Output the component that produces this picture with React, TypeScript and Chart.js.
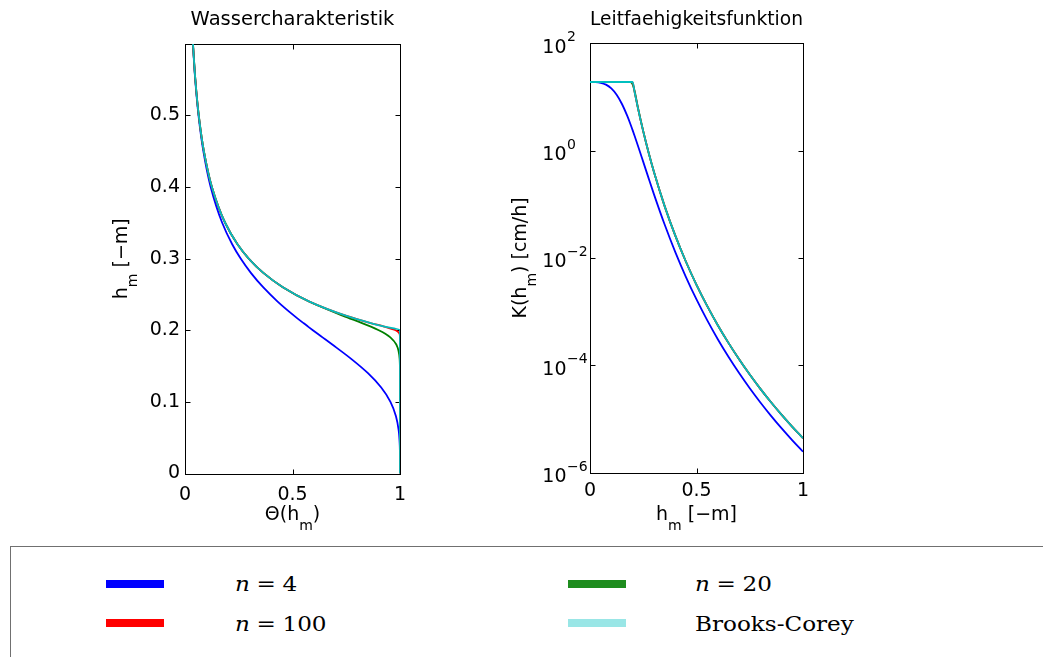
import React, { useEffect, useRef } from 'react';
import { Chart, registerables } from 'chart.js';

Chart.register(...registerables);

// ---------------- data ----------------
// left panel: pressure head h_m (y) vs. effective saturation Θ (x)
const hSat = [0.6, 0.55, 0.5, 0.45, 0.4, 0.35, 0.32, 0.3, 0.28, 0.26, 0.24, 0.22, 0.21, 0.205, 0.2, 0.195, 0.19, 0.18, 0.16, 0.14, 0.12, 0.1, 0.08, 0.06, 0.04, 0.02, 0];
const thetaN4 = [0.0367, 0.0475, 0.0628, 0.0853, 0.1194, 0.1729, 0.2195, 0.2589, 0.3064, 0.3634, 0.4308, 0.5085, 0.5507, 0.5725, 0.5946, 0.617, 0.6397, 0.685, 0.773, 0.851, 0.9127, 0.9556, 0.9812, 0.994, 0.9988, 0.9999, 1];
const thetaN20 = [0.037, 0.0481, 0.064, 0.0878, 0.125, 0.1866, 0.2441, 0.2963, 0.3644, 0.4548, 0.5765, 0.7358, 0.8234, 0.8646, 0.9013, 0.9317, 0.9551, 0.9829, 0.9983, 0.9999, 1, 1, 1, 1, 1, 1, 1];
const thetaN100 = [0.037, 0.0481, 0.064, 0.0878, 0.125, 0.1866, 0.2441, 0.2963, 0.3644, 0.4552, 0.5787, 0.7513, 0.8636, 0.9263, 0.9794, 0.9977, 0.9998, 1, 1, 1, 1, 1, 1, 1, 1, 1, 1];
const thetaBC = [0.037, 0.0481, 0.064, 0.0878, 0.125, 0.1866, 0.2441, 0.2963, 0.3644, 0.4552, 0.5787, 0.7513, 0.8638, 0.9286, 1, 1, 1, 1, 1, 1, 1, 1, 1, 1, 1, 1, 1];

// right panel: conductivity K (cm/h) vs. h_m
const hK = [0, 0.025, 0.05, 0.075, 0.1, 0.125, 0.15, 0.175, 0.19, 0.2, 0.21, 0.225, 0.25, 0.275, 0.3, 0.35, 0.4, 0.45, 0.5, 0.55, 0.6, 0.65, 0.7, 0.75, 0.8, 0.85, 0.9, 0.95, 1];
const kN4 = [19, 18.92, 18.39, 16.95, 14.4, 10.98, 7.392, 4.422, 3.1, 2.408, 1.853, 1.235, 0.616, 0.3065, 0.1546, 0.04231, 0.01298, 0.004444, 0.001679, 0.0006907, 0.0003054, 0.0001438, 0.00007149, 0.00003724, 0.00002022, 0.00001139, 0.000006624, 0.000003969, 0.000002438];
const kN20 = [19, 19, 19, 19, 19, 19, 19, 19, 18.9, 17.2, 12.6, 6.35, 2.29, 0.924, 0.4036, 0.09331, 0.02624, 0.008572, 0.00315, 0.001274, 0.0005572, 0.0002605, 0.0001289, 0.00006688, 0.00003624, 0.00002037, 0.00001183, 0.000007085, 0.000004351];
const kN100 = [19, 19, 19, 19, 19, 19, 19, 19, 19, 18.6, 12.0, 6.206, 2.281, 0.9223, 0.4036, 0.09331, 0.02624, 0.008572, 0.00315, 0.001274, 0.0005572, 0.0002605, 0.0001289, 0.00006688, 0.00003624, 0.00002037, 0.00001183, 0.000007085, 0.000004351];
const kBC = [19, 19, 19, 19, 19, 19, 19, 19, 19, 19, 11.96, 6.206, 2.281, 0.9223, 0.4036, 0.09331, 0.02624, 0.008572, 0.00315, 0.001274, 0.0005572, 0.0002605, 0.0001289, 0.00006688, 0.00003624, 0.00002037, 0.00001183, 0.000007085, 0.000004351];

// ticks
const xTicks = [0, 0.5, 1];
const yTicksSat = [0, 0.1, 0.2, 0.3, 0.4, 0.5];
const yTicksK = [1e-6, 1e-4, 1e-2, 1, 1e2];

// series
const seriesLabels = ['n = 4', 'n = 20', 'n = 100', 'Brooks-Corey'];
const lineColors = ['#0000ff', '#008000', '#ff0000', '#00bfbf'];
const legendColors = ['#0000ff', '#1e8c1e', '#ff0000', '#99e6e6'];
const drawOrder = [4, 3, 2, 1];

const SANS = '"DejaVu Sans", "Liberation Sans", sans-serif';
const SERIF = '"DejaVu Serif", "Liberation Serif", serif';

type Part = [string, boolean];

function drawParts(ctx: CanvasRenderingContext2D, parts: Part[], cx: number, cy: number, rotate: boolean) {
  const main = 19, sub = 14, drop = 10;
  ctx.save();
  ctx.translate(cx, cy);
  if (rotate) ctx.rotate(-Math.PI / 2);
  ctx.textAlign = 'left';
  ctx.textBaseline = 'alphabetic';
  ctx.fillStyle = '#000';
  let total = 0;
  const widths = parts.map(([t, s]) => {
    ctx.font = `${s ? sub : main}px ${SANS}`;
    const w = ctx.measureText(t).width;
    total += w;
    return w;
  });
  let x = -total / 2;
  parts.forEach(([t, s], i) => {
    ctx.font = `${s ? sub : main}px ${SANS}`;
    ctx.fillText(t, x, s ? drop : 0);
    x += widths[i];
  });
  ctx.restore();
}

function framePlugin(o: {
  yTicks: number[];
  xTitle: Part[];
  xBase: number;
  yTitle: Part[];
  yBase: number;
  logLabels?: number;
}) {
  const TL = 5;
  return {
    id: 'frame',
    beforeDatasetsDraw(chart: any) {
      const { ctx, chartArea: a, scales } = chart;
      ctx.save();
      ctx.strokeStyle = '#000';
      ctx.lineWidth = 1;
      const l = Math.round(a.left) + 0.5, r = Math.round(a.right) + 0.5;
      const t = Math.round(a.top) + 0.5, b = Math.round(a.bottom) + 0.5;
      ctx.strokeRect(l, t, r - l, b - t);
      ctx.beginPath();
      for (const v of xTicks) {
        const px = Math.round(scales.x.getPixelForValue(v)) + 0.5;
        ctx.moveTo(px, b); ctx.lineTo(px, b - TL);
        ctx.moveTo(px, t); ctx.lineTo(px, t + TL);
      }
      for (const v of o.yTicks) {
        const py = Math.round(scales.y.getPixelForValue(v)) + 0.5;
        ctx.moveTo(l, py); ctx.lineTo(l + TL, py);
        ctx.moveTo(r, py); ctx.lineTo(r - TL, py);
      }
      ctx.stroke();
      ctx.restore();
    },
    afterDraw(chart: any) {
      const { ctx, chartArea: a, scales } = chart;
      const cx = (a.left + a.right) / 2;
      const cy = (a.top + a.bottom) / 2;
      drawParts(ctx, o.xTitle, cx, o.xBase, false);
      drawParts(ctx, o.yTitle, o.yBase, cy, true);
      if (o.logLabels !== undefined) {
        ctx.save();
        ctx.fillStyle = '#000';
        ctx.textBaseline = 'alphabetic';
        for (const v of o.yTicks) {
          const py = scales.y.getPixelForValue(v);
          const e = Math.round(Math.log10(v));
          ctx.font = `19px ${SANS}`;
          ctx.textAlign = 'right';
          ctx.fillText('10', o.logLabels, py + 9.5);
          ctx.font = `14px ${SANS}`;
          ctx.textAlign = 'left';
          ctx.fillText(e < 0 ? '\u2212' + Math.abs(e) : String(e), o.logLabels + 0.5, py - 2);
        }
        ctx.restore();
      }
    },
  };
}

const fmt = (v: any) => String(Math.round(Number(v) * 10) / 10);

function makeDatasets(series: number[][], shared: number[], sharedIsY: boolean) {
  return series.map((vals, i) => ({
    label: seriesLabels[i],
    data: shared.map((s, j) => (sharedIsY ? { x: vals[j], y: s } : { x: s, y: vals[j] })),
    indexAxis: sharedIsY ? 'y' : 'x',
    borderColor: lineColors[i],
    backgroundColor: lineColors[i],
    borderWidth: 1.8,
    pointRadius: 0,
    fill: false,
    cubicInterpolationMode: 'monotone' as const,
    borderJoinStyle: 'round' as const,
    order: drawOrder[i],
  }));
}

export default function App() {
  const leftRef = useRef<HTMLCanvasElement>(null);
  const rightRef = useRef<HTMLCanvasElement>(null);

  useEffect(() => {
    const tickFont = { family: SANS, size: 19 };
    const titleFont = { family: SANS, size: 19.5, weight: 'normal' };
    const left = new Chart(leftRef.current!, {
      type: 'line',
      data: { datasets: makeDatasets([thetaN4, thetaN20, thetaN100, thetaBC], hSat, true) as any },
      options: {
        responsive: false,
        animation: false,
        layout: { padding: { left: 0, right: 90, top: 0, bottom: 0 } },
        plugins: {
          legend: { display: false },
          tooltip: { enabled: false },
          title: {
            display: true,
            fullSize: false,
            text: 'Wassercharakteristik',
            color: '#000',
            font: titleFont,
            padding: { top: 8.7, bottom: 11.9 },
          },
        },
        scales: {
          x: {
            type: 'linear', position: 'bottom', min: 0, max: 1,
            afterBuildTicks: (s: any) => { s.ticks = xTicks.map((v) => ({ value: v })); },
            afterFit: (s: any) => { s.height = 71.5; },
            grid: { display: false, drawTicks: false },
            border: { display: false },
            ticks: { color: '#000', font: tickFont, padding: 10, maxRotation: 0, autoSkip: false, callback: fmt },
          },
          y: {
            type: 'linear', position: 'left', min: 0, max: 0.5995,
            afterBuildTicks: (s: any) => { s.ticks = yTicksSat.map((v) => ({ value: v })); },
            afterFit: (s: any) => { s.width = 185; },
            grid: { display: false, drawTicks: false },
            border: { display: false },
            ticks: { color: '#000', font: tickFont, padding: 5, autoSkip: false, callback: fmt },
          },
        },
      } as any,
      plugins: [framePlugin({
        yTicks: yTicksSat,
        xTitle: [['\u0398(h', false], ['m', true], [')', false]],
        xBase: 520,
        yTitle: [['h', false], ['m', true], [' [\u2212m]', false]],
        yBase: 127,
      })],
    });

    const right = new Chart(rightRef.current!, {
      type: 'line',
      data: { datasets: makeDatasets([kN4, kN20, kN100, kBC], hK, false) as any },
      options: {
        responsive: false,
        animation: false,
        layout: { padding: { left: 0, right: 87, top: 0, bottom: 0 } },
        plugins: {
          legend: { display: false },
          tooltip: { enabled: false },
          title: {
            display: true,
            fullSize: false,
            text: 'Leitfaehigkeitsfunktion',
            color: '#000',
            font: titleFont,
            padding: { top: 8.2, bottom: 11.7 },
          },
        },
        scales: {
          x: {
            type: 'linear', position: 'bottom', min: 0, max: 1,
            afterBuildTicks: (s: any) => { s.ticks = xTicks.map((v) => ({ value: v })); },
            afterFit: (s: any) => { s.height = 72.5; },
            grid: { display: false, drawTicks: false },
            border: { display: false },
            ticks: { color: '#000', font: tickFont, padding: 7, maxRotation: 0, autoSkip: false, callback: fmt },
          },
          y: {
            type: 'logarithmic', position: 'left', min: 1e-6, max: 1e2,
            afterBuildTicks: (s: any) => { s.ticks = yTicksK.map((v) => ({ value: v })); },
            afterFit: (s: any) => { s.width = 100; },
            grid: { display: false, drawTicks: false },
            border: { display: false },
            ticks: { display: false },
          },
        },
      } as any,
      plugins: [framePlugin({
        yTicks: yTicksK,
        xTitle: [['h', false], ['m', true], [' [\u2212m]', false]],
        xBase: 520,
        yTitle: [['K(h', false], ['m', true], [') [cm/h]', false]],
        yBase: 36,
        logLabels: 76.5,
      })],
    });

    return () => {
      left.destroy();
      right.destroy();
    };
  }, []);

  const legendPos = [
    { lx: 106, ly: 580, tx: 235, ty: 574.3 },
    { lx: 568, ly: 580, tx: 695, ty: 574.3 },
    { lx: 106, ly: 618.5, tx: 235, ty: 614.3 },
    { lx: 568, ly: 618.5, tx: 695, ty: 614.3 },
  ];

  const renderLabel = (label: string) => {
    const m = label.match(/^n = (\d+)$/);
    if (m) {
      return (
        <>
          <span style={{ fontStyle: 'italic' }}>n</span>
          <span style={{ margin: '0 6px' }}>=</span>
          {m[1]}
        </>
      );
    }
    return label;
  };

  return (
    <div style={{ position: 'absolute', left: 0, top: 0, width: 1043, height: 657, background: '#fff', overflow: 'hidden' }}>
      <canvas ref={leftRef} width={490} height={545} style={{ position: 'absolute', left: 0, top: 0, width: 490, height: 545 }} />
      <canvas ref={rightRef} width={400} height={545} style={{ position: 'absolute', left: 490, top: 0, width: 400, height: 545 }} />
      <div style={{ position: 'absolute', left: 10, top: 546, width: 1060, height: 140, border: '1px solid #707070', boxSizing: 'border-box' }} />
      {seriesLabels.map((lab, i) => (
        <React.Fragment key={lab}>
          <div style={{ position: 'absolute', left: legendPos[i].lx, top: legendPos[i].ly, width: 58, height: 8, background: legendColors[i] }} />
          <div style={{ position: 'absolute', left: legendPos[i].tx, top: legendPos[i].ty, font: `21px ${SERIF}`, lineHeight: '21px', whiteSpace: 'pre', color: '#000', transform: 'scaleX(1.1)', transformOrigin: '0 0' }}>
            {renderLabel(lab)}
          </div>
        </React.Fragment>
      ))}
    </div>
  );
}
